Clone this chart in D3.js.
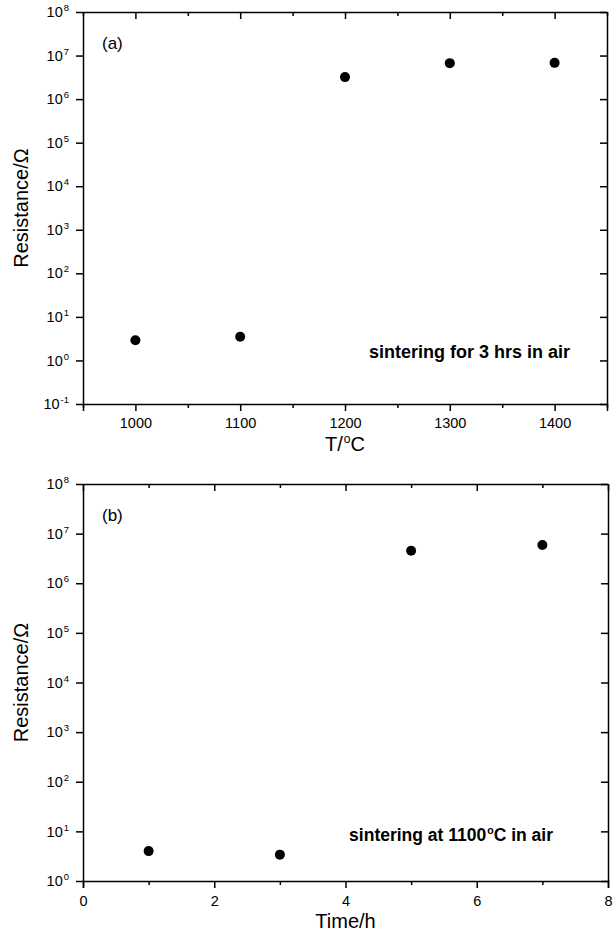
<!DOCTYPE html>
<html>
<head>
<meta charset="utf-8">
<script src="https://cdn.jsdelivr.net/npm/d3@7"></script>
<style>
  body { margin: 0; background: #fff; }
  svg { font-family: "Liberation Sans", Arial, sans-serif; }
  .domain, .tick line { stroke: #000; stroke-width: 1.5; }
</style>
</head>
<body>
<div id="chart"></div>
<script>
// panel (a): resistance vs sintering temperature
const tempC = [1000, 1100, 1200, 1300, 1400];
const resA = [2.9, 3.5, 3.2e6, 6.7e6, 6.8e6];
// panel (b): resistance vs sintering time
const timeH = [1, 3, 5, 7];
const resB = [4.0, 3.4, 4.5e6, 5.9e6];

const xTicksA = [1000, 1100, 1200, 1300, 1400];
const xMinorA = [950, 1050, 1150, 1250, 1350, 1450];
const xTicksB = [0, 2, 4, 6, 8];
const xMinorB = [1, 3, 5, 7];

const svg = d3.select("#chart").append("svg")
    .attr("width", 616)
    .attr("height", 941);

// superscript tick label 10^n
function powLabel(sel) {
    sel.each(function(d) {
        const t = d3.select(this).text("");
        t.append("tspan").text("10");
        t.append("tspan")
            .attr("dy", "-6px")
            .attr("dx", "1px")
            .attr("font-size", "9.5px")
            .text(Math.round(Math.log10(d)));
    });
}

function deg(t, before, after, shift) {
    t.append("tspan").text(before);
    t.append("tspan").attr("dy", -shift + "px").attr("dx", "1px").attr("font-size", "0.6em").text("o");
    t.append("tspan").attr("dy", shift + "px").text(after);
}

function drawPanel(cfg) {
    const { left, right, top, bottom } = cfg;
    const x = d3.scaleLinear().domain(cfg.xDomain).range([left, right]);
    const y = d3.scaleLog().domain(cfg.yDomain).range([bottom, top]);
    const decades = d3.range(Math.log10(cfg.yDomain[0]), Math.log10(cfg.yDomain[1]) + 1)
        .map(e => Math.pow(10, e));

    const g = svg.append("g");

    // bottom axis (outward ticks)
    g.append("g")
        .attr("transform", `translate(0,${bottom})`)
        .call(d3.axisBottom(x).tickValues(cfg.xTicks).tickSize(7).tickPadding(cfg.xPad)
            .tickFormat(d3.format("d")))
        .call(a => a.selectAll("text").attr("font-size", "14.5px").attr("fill", "#000"));
    g.append("g")
        .attr("transform", `translate(0,${bottom})`)
        .call(d3.axisBottom(x).tickValues(cfg.xMinor).tickSize(4).tickFormat(""))
        .call(a => a.select(".domain").remove());

    // top axis (inward ticks)
    g.append("g")
        .attr("transform", `translate(0,${top})`)
        .call(d3.axisBottom(x).tickValues(cfg.xTicks).tickSize(7).tickSizeOuter(0).tickFormat(""));
    g.append("g")
        .attr("transform", `translate(0,${top})`)
        .call(d3.axisBottom(x).tickValues(cfg.xMinor).tickSize(4).tickFormat(""))
        .call(a => a.select(".domain").remove());

    // left axis (outward ticks)
    g.append("g")
        .attr("transform", `translate(${left},0)`)
        .call(d3.axisLeft(y).tickValues(decades).tickSize(7).tickPadding(7).tickSizeOuter(0))
        .call(a => a.selectAll("text").attr("font-size", "14.5px").attr("fill", "#000").call(powLabel));

    // right axis (inward ticks)
    g.append("g")
        .attr("transform", `translate(${right},0)`)
        .call(d3.axisRight(y).tickValues(decades).tickSize(0).tickSizeOuter(0).tickFormat(""))
        .call(a => a.selectAll(".tick line").attr("x2", -7));

    // points
    g.selectAll("circle.pt")
        .data(cfg.xs.map((v, i) => [v, cfg.ys[i]]))
        .join("circle")
        .attr("class", "pt")
        .attr("cx", d => x(d[0]))
        .attr("cy", d => y(d[1]))
        .attr("r", 5)
        .attr("fill", "#000");

    // axis titles
    g.append("text")
        .attr("transform", `translate(28,${(top + bottom) / 2}) rotate(-90)`)
        .attr("text-anchor", "middle")
        .attr("font-size", "20px")
        .text("Resistance/Ω");

    const xt = g.append("text")
        .attr("x", (left + right) / 2)
        .attr("y", bottom + 47)
        .attr("text-anchor", "middle")
        .attr("font-size", "20px");
    cfg.xTitle(xt);

    g.append("text")
        .attr("x", left + 19)
        .attr("y", top + 37)
        .attr("font-size", "17px")
        .text(cfg.tag);

    const note = g.append("text")
        .attr("x", cfg.noteX)
        .attr("y", cfg.noteY)
        .attr("text-anchor", "end")
        .attr("font-size", cfg.noteSize)
        .attr("font-weight", "bold");
    cfg.note(note);
}

drawPanel({
    left: 83, right: 607, top: 12, bottom: 404,
    xDomain: [950, 1450], yDomain: [1e-1, 1e8],
    xTicks: xTicksA, xMinor: xMinorA, xPad: 7,
    xs: tempC, ys: resA,
    xTitle: t => deg(t, "T/", "C", 8),
    tag: "(a)",
    noteX: 570, noteY: 358, noteSize: "18px",
    note: t => t.text("sintering for 3 hrs in air")
});

drawPanel({
    left: 83, right: 608, top: 484, bottom: 881,
    xDomain: [0, 8], yDomain: [1e0, 1e8],
    xTicks: xTicksB, xMinor: xMinorB, xPad: 8,
    xs: timeH, ys: resB,
    xTitle: t => t.text("Time/h"),
    tag: "(b)",
    noteX: 553, noteY: 841, noteSize: "17.5px",
    note: t => deg(t, "sintering at 1100", "C in air", 7)
});
</script>
</body>
</html>
